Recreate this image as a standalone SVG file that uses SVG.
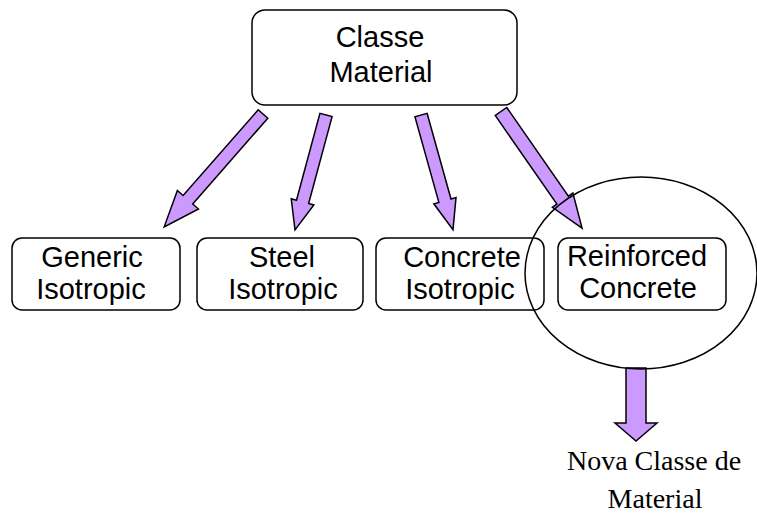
<svg xmlns="http://www.w3.org/2000/svg" width="757" height="513" viewBox="0 0 757 513">
  <style>
    .box { fill: #ffffff; stroke: #000000; stroke-width: 1.5; }
    .lbl { font-family: "Liberation Sans", Arial, sans-serif; font-size: 29px; fill: #000000; text-anchor: middle; }
    .serif { font-family: "Liberation Serif", "Times New Roman", serif; font-size: 28px; fill: #000000; text-anchor: middle; }
    .arrow { fill: #cc99ff; stroke: #000000; stroke-width: 1.5; stroke-linejoin: miter; }
  </style>

  <rect width="757" height="513" fill="#ffffff"/>

  <!-- base class -->
  <g id="classe-material">
    <rect class="box" x="252" y="10" width="265" height="95" rx="13" ry="13"/>
    <text class="lbl" x="380" y="47">Classe</text>
    <text class="lbl" x="381" y="82">Material</text>
  </g>

  <!-- derived classes -->
  <g id="generic-isotropic">
    <rect class="box" x="12" y="238" width="168" height="72" rx="10" ry="10"/>
    <text class="lbl" x="92" y="267">Generic</text>
    <text class="lbl" x="91" y="299">Isotropic</text>
  </g>
  <g id="steel-isotropic">
    <rect class="box" x="197" y="238" width="166" height="72" rx="10" ry="10"/>
    <text class="lbl" x="282" y="267">Steel</text>
    <text class="lbl" x="283" y="299">Isotropic</text>
  </g>
  <g id="concrete-isotropic">
    <rect class="box" x="376" y="238" width="168" height="72" rx="10" ry="10"/>
    <text class="lbl" x="462" y="267">Concrete</text>
    <text class="lbl" x="460" y="299">Isotropic</text>
  </g>
  <g id="reinforced-concrete">
    <rect class="box" x="558" y="238" width="168" height="72" rx="10" ry="10"/>
    <text class="lbl" x="637" y="266">Reinforced</text>
    <text class="lbl" x="638" y="298">Concrete</text>
  </g>

  <!-- new class label -->
  <g id="nova-classe">
    <text class="serif" x="654" y="470">Nova Classe de</text>
    <text class="serif" x="655" y="508">Material</text>
  </g>

  <!-- block arrows -->
  <g id="connectors">
    <polygon class="arrow" points="0,-6.4 114,-6.4 114,-14 150,0 114,14 114,6.4 0,6.4" transform="translate(263,114) rotate(131.2)"/>
    <polygon class="arrow" points="0,-6.3 90,-6.3 90,-11.7 119,0 90,11.7 90,6.3 0,6.3" transform="translate(326,115) rotate(105.1)"/>
    <polygon class="arrow" points="0,-6.3 89,-6.3 89,-11.5 119,0 89,11.5 89,6.3 0,6.3" transform="translate(421,115) rotate(74.4)"/>
    <polygon class="arrow" points="0,-7 108,-7 108,-12.5 142,0 108,12.5 108,7 0,7" transform="translate(501,111.5) rotate(55.2)"/>
    <polygon class="arrow" points="626,368 646,368 646,423 657,423 636,441 615,423 626,423"/>
  </g>

  <!-- highlight ring around the extended class -->
  <g id="highlight">
    <ellipse cx="641" cy="273" rx="116" ry="96" fill="none" stroke="#000000" stroke-width="1.5"/>
  </g>
</svg>
